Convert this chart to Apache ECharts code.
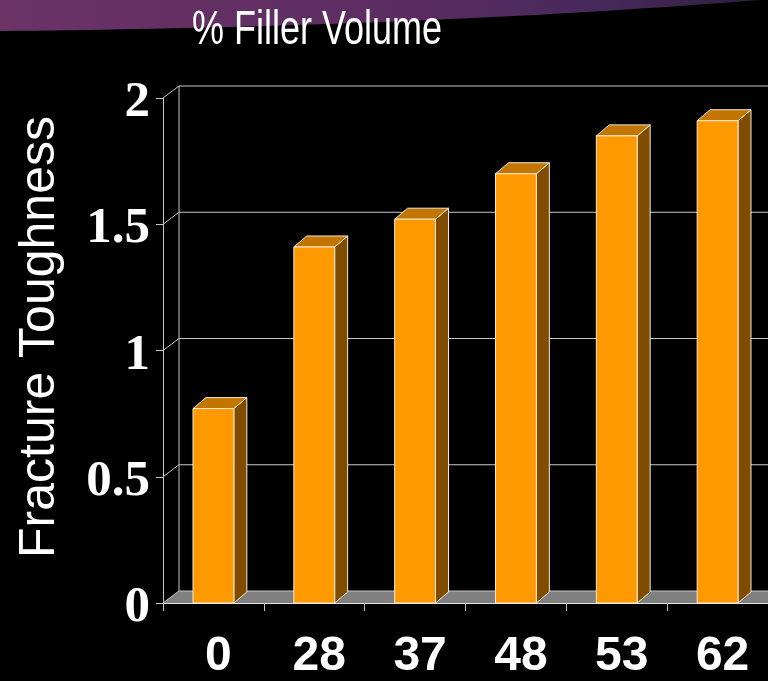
<!DOCTYPE html>
<html>
<head>
<meta charset="utf-8">
<style>
  html, body { margin: 0; padding: 0; background: #000; }
  #chart { width: 768px; height: 681px; }
</style>
<script src="https://cdn.jsdelivr.net/npm/echarts@6/dist/echarts.min.js"></script>
</head>
<body>
<div id="chart"></div>
<script>
// Filler volume (%) categories and measured fracture toughness
const categories = ['0', '28', '37', '48', '53', '62'];
const toughness = [0.77, 1.41, 1.52, 1.70, 1.85, 1.91];
const yTicks = [0, 0.5, 1, 1.5, 2];

// 3D look: offset of the back wall and of each bar's depth
const WALL_DX = 16, WALL_DY = -12;
const BAR_DX = 13, BAR_DY = -11;

// Title is set in a narrow face and fitted to a fixed width
const TITLE = '% Filler Volume';
const TITLE_FONT_FAMILY = '"Liberation Sans Narrow", "Liberation Sans", Arial, sans-serif';
const TITLE_SIZE = 48;
const TITLE_WIDTH = 250;

function titleScale() {
  const ctx = document.createElement('canvas').getContext('2d');
  ctx.font = TITLE_SIZE + 'px ' + TITLE_FONT_FAMILY;
  const w = ctx.measureText(TITLE).width;
  return w > 0 ? TITLE_WIDTH / w : 1;
}

const chart = echarts.init(document.getElementById('chart'));

// Decorative banner along the top: lower edge follows a quadratic curve
function bannerPoints() {
  const p0 = [0, 31], c = [420, 27], p1 = [760, 0];
  const pts = [[0, 0]];
  for (let i = 0; i <= 48; i++) {
    const t = i / 48, u = 1 - t;
    pts.push([
      u * u * p0[0] + 2 * u * t * c[0] + t * t * p1[0],
      u * u * p0[1] + 2 * u * t * c[1] + t * t * p1[1]
    ]);
  }
  return pts;
}

// Floor, back-wall gridlines, their connectors to the front axis, and tick labels
function renderFrame(params, api) {
  const cs = params.coordSys;
  const v = api.value(1);
  const y = api.coord([0, v])[1];
  const left = cs.x, right = cs.x + cs.width;
  const children = [];
  if (v === 0) {
    children.push({
      type: 'polygon',
      shape: { points: [[left, y], [left + WALL_DX, y + WALL_DY], [right + WALL_DX, y + WALL_DY], [right, y]] },
      style: { fill: '#808080' }
    });
    children.push({
      type: 'line',
      shape: { x1: left + WALL_DX, y1: y + WALL_DY, x2: left + WALL_DX, y2: cs.y + WALL_DY },
      style: { stroke: '#c8c8c8', lineWidth: 1 }
    });
  }
  children.push({
    type: 'polyline',
    shape: { points: [[left, y], [left + WALL_DX, y + WALL_DY], [right + WALL_DX, y + WALL_DY]] },
    style: { stroke: '#c8c8c8', lineWidth: 1, fill: null }
  });
  children.push({
    type: 'text',
    x: left - 13,
    y: y + 5,
    style: {
      text: String(v),
      fill: '#fff',
      fontSize: 51,
      fontWeight: 'bold',
      fontFamily: '"Liberation Serif", "Times New Roman", serif',
      textAlign: 'right',
      textVerticalAlign: 'middle'
    }
  });
  return { type: 'group', children };
}

function renderBar(params, api) {
  const idx = api.value(0);
  const val = api.value(1);
  const base = api.coord([idx, 0]);
  const top = api.coord([idx, val]);
  const bw = api.size([1, 0])[0] * 0.405;
  const x0 = base[0] - bw / 2, x1 = base[0] + bw / 2;
  const yt = top[1], yb = base[1];
  const edge = { stroke: '#f4ead8', lineWidth: 1 };
  return {
    type: 'group',
    children: [
      {
        type: 'polygon',
        shape: { points: [[x1, yt], [x1 + BAR_DX, yt + BAR_DY], [x1 + BAR_DX, yb + BAR_DY], [x1, yb]] },
        style: Object.assign({ fill: '#7f4c00' }, edge)
      },
      {
        type: 'polygon',
        shape: { points: [[x0, yt], [x0 + BAR_DX, yt + BAR_DY], [x1 + BAR_DX, yt + BAR_DY], [x1, yt]] },
        style: Object.assign({ fill: '#c27600' }, edge)
      },
      {
        type: 'rect',
        shape: { x: x0, y: yt, width: bw, height: yb - yt },
        style: Object.assign({ fill: '#ff9900' }, edge)
      }
    ]
  };
}

chart.setOption({
  backgroundColor: '#000',
  animation: false,
  graphic: [
    {
      type: 'polygon',
      shape: { points: bannerPoints() },
      style: {
        fill: {
          type: 'linear', x: 0, y: 0, x2: 1, y2: 0,
          colorStops: [
            { offset: 0, color: '#6b3366' },
            { offset: 0.5, color: '#5c2d62' },
            { offset: 0.8, color: '#47285a' },
            { offset: 1, color: '#2e1f3c' }
          ]
        }
      },
      z: 0
    },
    {
      type: 'text',
      x: 317, y: 31,
      scaleX: titleScale(),
      style: {
        text: TITLE,
        fill: '#fff',
        fontSize: TITLE_SIZE,
        fontFamily: TITLE_FONT_FAMILY,
        textAlign: 'center',
        textVerticalAlign: 'middle'
      },
      z: 10
    },
    {
      type: 'text',
      x: 40, y: 337,
      rotation: Math.PI / 2,
      style: {
        text: 'Fracture Toughness',
        fill: '#fff',
        fontSize: 50,
        fontFamily: '"Liberation Sans", Arial, sans-serif',
        textAlign: 'center',
        textVerticalAlign: 'middle'
      },
      z: 10
    }
  ],
  grid: { left: 163, top: 98, width: 609, height: 506.5 },
  xAxis: {
    type: 'category',
    data: categories,
    boundaryGap: true,
    axisLine: { lineStyle: { color: '#e0e0e0', width: 1 } },
    axisTick: { show: true, length: 8, lineStyle: { color: '#c8c8c8' } },
    axisLabel: {
      color: '#fff',
      fontFamily: '"Liberation Sans", Arial, sans-serif',
      fontWeight: 'bold',
      fontSize: 48,
      margin: 30,
      padding: [0, 0, 0, 10]
    },
    splitLine: { show: false }
  },
  yAxis: {
    type: 'value',
    min: 0, max: 2, interval: 0.5,
    axisLine: { show: true, lineStyle: { color: '#c8c8c8', width: 1 } },
    axisTick: { show: true, length: 7, lineStyle: { color: '#c8c8c8' } },
    axisLabel: { show: false },
    splitLine: { show: false }
  },
  series: [
    {
      type: 'custom',
      name: 'frame',
      renderItem: renderFrame,
      clip: false,
      silent: true,
      encode: { x: 0, y: 1 },
      data: yTicks.map(v => [0, v]),
      z: 1
    },
    {
      type: 'custom',
      name: 'Fracture Toughness',
      renderItem: renderBar,
      clip: false,
      encode: { x: 0, y: 1 },
      data: toughness.map((v, i) => [i, v]),
      z: 3
    }
  ]
});
</script>
</body>
</html>
